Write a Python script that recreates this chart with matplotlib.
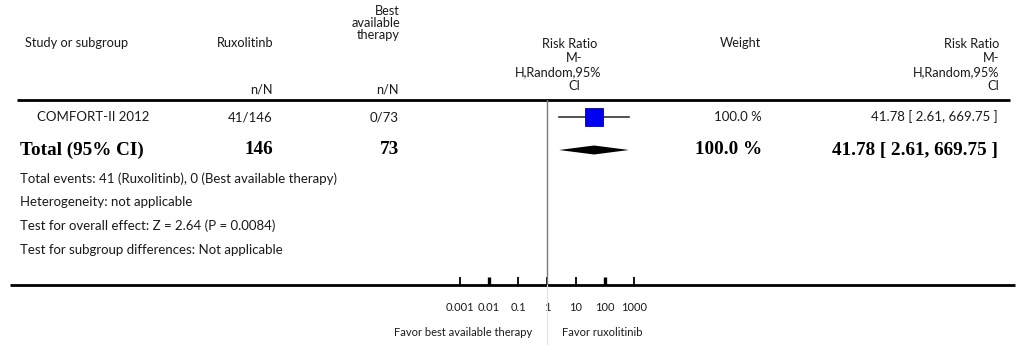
import matplotlib
matplotlib.use("Agg")
import matplotlib.pyplot as plt

# ---------------------------------------------------------------
# DATA
# ---------------------------------------------------------------
study_name = "COMFORT-II 2012"
rux_events = 41
rux_total = 146
bat_events = 0
bat_total = 73
rr = 41.78
ci_low = 2.61
ci_high = 669.75
weight = 100.0

tick_values = [0.001, 0.01, 0.1, 1, 10, 100, 1000]
tick_labels = ["0.001", "0.01", "0.1", "1", "10", "100", "1000"]

footer_lines = [
    "Total events: 41 (Ruxolitinb), 0 (Best available therapy)",
    "Heterogeneity: not applicable",
    "Test for overall effect: Z = 2.64 (P = 0.0084)",
    "Test for subgroup differences: Not applicable",
]

# ---------------------------------------------------------------
# FIGURE
# ---------------------------------------------------------------
W, H = 1025, 345
fig = plt.figure(figsize=(W / 100, H / 100), dpi=100)

# overlay in pixel coordinates for the table text
bg = fig.add_axes([0, 0, 1, 1])
bg.set_xlim(0, W)
bg.set_ylim(H, 0)
bg.axis("off")

sans = "Lato"
serif = "Liberation Serif"
txt = "#1a1a1a"
fs = 9.5      # body rows
fs_h = 9.2    # header
fs_b = 13.8   # bold total row
fs_s = 8.0    # axis labels

def t(x, y, s, ha="left", size=fs, **kw):
    bg.text(x, y, s, fontsize=size, family=sans, color=txt, va="center", ha=ha, **kw)

def tb(x, y, s, ha="left"):
    bg.text(x, y, s, fontsize=fs_b, family=serif, weight="bold", color="black", va="center", ha=ha)

# header
t(25, 43, "Study or subgroup", size=fs_h)
t(274, 43, "Ruxolitinb", ha="right", size=fs_h)
for yy, s in zip([11, 23, 35], ["Best", "available", "therapy"]):
    t(400, yy, s, ha="right", size=fs_h)
t(273, 89, "n/N", ha="right", size=fs_h)
t(399, 89, "n/N", ha="right", size=fs_h)

rr_head = ["Risk Ratio", "M-", "H,Random,95%", "CI"]
head_y = [44, 58.5, 72.5, 86.5]
for yy, xx, s in zip(head_y, [570, 574, 558, 574], rr_head):
    t(xx, yy, s, ha="center", size=fs_h)
t(740, 43, "Weight", ha="center", size=fs_h)
for yy, s in zip(head_y, rr_head):
    t(999, yy, s, ha="right", size=fs_h)

bg.plot([17, 1010], [100, 100], color="black", lw=2, solid_capstyle="butt")

# study row
y_study = 117
t(37, y_study, study_name)
t(273, y_study, f"{rux_events}/{rux_total}", ha="right")
t(399, y_study, f"{bat_events}/{bat_total}", ha="right")
t(762, y_study, f"{weight:.1f} %", ha="right")
t(998, y_study, f"{rr:.2f} [ {ci_low:.2f}, {ci_high:.2f} ]", ha="right")

# total row
y_tot = 150
tb(20, y_tot, "Total (95% CI)")
tb(273, y_tot, f"{rux_total}", ha="right")
tb(399, y_tot, f"{bat_total}", ha="right")
tb(762, y_tot, f"{weight:.1f} %", ha="right")
tb(998, y_tot, f"{rr:.2f} [ {ci_low:.2f}, {ci_high:.2f} ]", ha="right")

for i, s in enumerate(footer_lines):
    t(20, 179 + i * 23.5, s)

# bottom axis line (full width)
bg.plot([10, 1015], [285, 285], color="black", lw=2, solid_capstyle="butt")
t(532, 332, "Favor best available therapy", ha="right", size=fs_s)
t(562, 332, "Favor ruxolitinib", ha="left", size=fs_s)

# ---------------------------------------------------------------
# FOREST PANEL (log scale)
# ---------------------------------------------------------------
dec = 29.0  # pixels per decade
x1 = 547.0
lo, hi = -3.7, 3.7
left_px = x1 + lo * dec
right_px = x1 + hi * dec
top_px, bot_px = 100, 285
ax = fig.add_axes([left_px / W, 1 - bot_px / H, (right_px - left_px) / W, (bot_px - top_px) / H])
ax.set_xscale("log")
ax.set_xlim(10 ** lo, 10 ** hi)
ax.set_ylim(bot_px, top_px)
ax.patch.set_alpha(0)
for sp in ax.spines.values():
    sp.set_visible(False)
ax.set_yticks([])
ax.set_xticks(tick_values)
ax.set_xticklabels(tick_labels, fontsize=fs_s, family=sans, color=txt)
ax.xaxis.set_minor_locator(matplotlib.ticker.NullLocator())
ax.tick_params(axis="x", direction="in", length=6, width=1.3, pad=12, color="black")
for tk in ax.xaxis.get_major_ticks():
    if tk.get_loc() in (0.01, 100):
        tk.tick1line.set_markeredgewidth(2.4)

# line of no effect
ax.axvline(1, color="#7a7a7a", lw=1)
ax.axvline(1, ymin=-0.33, ymax=0, color="#e0e0e0", lw=0.8, clip_on=False)

# study: CI + square
ax.plot([ci_low, ci_high], [y_study, y_study], color="#333333", lw=1.2)
ax.plot([rr], [y_study], marker="s", ms=12.5, color="#0000ee", mec="#0000aa", mew=0.6)

# pooled diamond
ax.fill([ci_low, rr, ci_high, rr], [y_tot, y_tot - 4.5, y_tot, y_tot + 4.5], color="black", lw=0)

fig.savefig("out.png", dpi=100)
